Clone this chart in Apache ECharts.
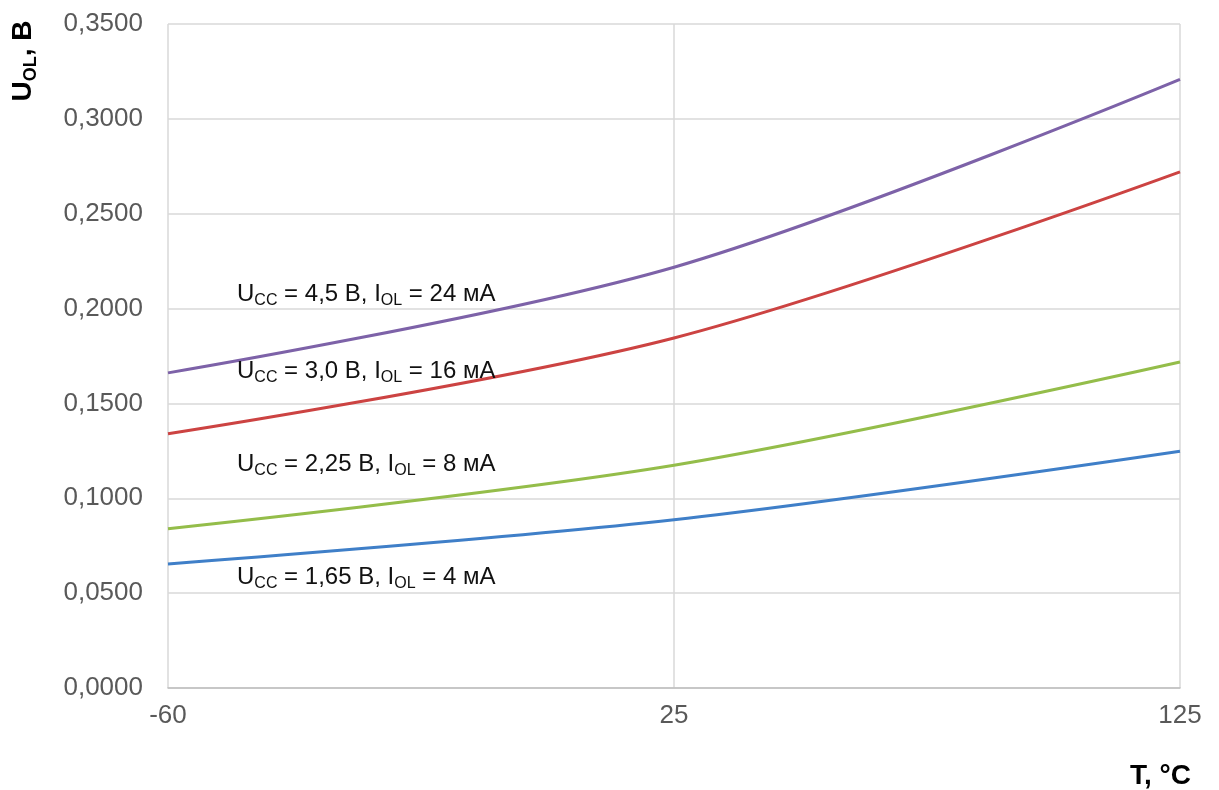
<!DOCTYPE html>
<html>
<head>
<meta charset="utf-8">
<script src="https://cdn.jsdelivr.net/npm/echarts@6/dist/echarts.min.js"></script>
<style>
html,body{margin:0;padding:0;background:#fff;}
#chart{width:1219px;height:790px;}
</style>
</head>
<body>
<div id="chart"></div>
<script>
// Temperature categories (°C)
const categories = ['-60', '25', '125'];
// U_OL, V
const seriesPurple = [0.1661, 0.2218, 0.3208]; // Ucc=4.5 V, Iol=24 mA
const seriesRed    = [0.1340, 0.1845, 0.2721]; // Ucc=3.0 V, Iol=16 mA
const seriesGreen  = [0.0840, 0.1174, 0.1718]; // Ucc=2.25 V, Iol=8 mA
const seriesBlue   = [0.0654, 0.0887, 0.1248]; // Ucc=1.65 V, Iol=4 mA
const yTicks = { min: 0, max: 0.35, interval: 0.05 };
const labelTexts = [
  { u: 'U', us: 'CC', mid: ' = 4,5 В, I', is: 'OL', end: ' = 24 мА' },
  { u: 'U', us: 'CC', mid: ' = 3,0 В, I', is: 'OL', end: ' = 16 мА' },
  { u: 'U', us: 'CC', mid: ' = 2,25 В, I', is: 'OL', end: ' = 8 мА' },
  { u: 'U', us: 'CC', mid: ' = 1,65 В, I', is: 'OL', end: ' = 4 мА' }
];

const FONT = '"Liberation Sans", Arial, sans-serif';
const chart = echarts.init(document.getElementById('chart'));

const richLabel = {
  a: { fontSize: 24, fontFamily: FONT, color: '#111', lineHeight: 30 },
  s: { fontSize: 16, fontFamily: FONT, color: '#111', lineHeight: 13, verticalAlign: 'bottom' }
};
function labelStr(t) {
  return '{a|' + t.u + '}{s|' + t.us + '}{a|' + t.mid + '}{s|' + t.is + '}{a|' + t.end + '}';
}
const labelTops = [282, 359, 452, 565];

const graphics = labelTexts.map((t, i) => ({
  type: 'text',
  left: 237,
  top: labelTops[i],
  z: 100,
  style: { text: labelStr(t), rich: richLabel, fill: '#111' }
}));

graphics.push({
  type: 'text',
  x: 23, y: 61,
  rotation: Math.PI / 2,
  z: 100,
  style: {
    text: '{b|U}{s|OL}{b|, В}',
    align: 'center', verticalAlign: 'middle',
    rich: {
      b: { fontSize: 28, fontWeight: 'bold', fontFamily: FONT, color: '#000', lineHeight: 34 },
      s: { fontSize: 18, fontWeight: 'bold', fontFamily: FONT, color: '#000', lineHeight: 16, verticalAlign: 'bottom' }
    }
  }
});
graphics.push({
  type: 'text',
  x: 1130, y: 776,
  z: 100,
  style: {
    text: 'T, °C', align: 'left', verticalAlign: 'middle',
    fontSize: 28, fontWeight: 'bold', fontFamily: FONT, fill: '#000'
  }
});

function mkSeries(name, data, color) {
  return {
    name, type: 'line', data,
    smooth: 0.33,
    showSymbol: false, symbol: 'none',
    lineStyle: { color, width: 3 },
    itemStyle: { color },
    animation: false
  };
}

chart.setOption({
  backgroundColor: '#ffffff',
  animation: false,
  grid: { left: 168, right: 39, top: 24, bottom: 102 },
  xAxis: {
    type: 'category',
    data: categories,
    boundaryGap: false,
    axisLine: { show: true, lineStyle: { color: '#bfbfbf', width: 1.5 } },
    axisTick: { show: false },
    axisLabel: { color: '#595959', fontSize: 26, fontFamily: FONT, margin: 15 },
    splitLine: { show: true, lineStyle: { color: '#d9d9d9', width: 1.5 } }
  },
  yAxis: {
    type: 'value',
    min: yTicks.min, max: yTicks.max, interval: yTicks.interval,
    axisLine: { show: false },
    axisTick: { show: false },
    axisLabel: {
      color: '#595959', fontSize: 26, fontFamily: FONT, margin: 25,
      formatter: v => v.toFixed(4).replace('.', ',')
    },
    splitLine: { show: true, lineStyle: { color: '#d9d9d9', width: 1.5 } }
  },
  series: [
    mkSeries('Ucc=4,5', seriesPurple, '#7D62A8'),
    mkSeries('Ucc=3,0', seriesRed, '#CC4342'),
    mkSeries('Ucc=2,25', seriesGreen, '#94BD4A'),
    mkSeries('Ucc=1,65', seriesBlue, '#3F7FC8')
  ],
  graphic: graphics
});
</script>
</body>
</html>
